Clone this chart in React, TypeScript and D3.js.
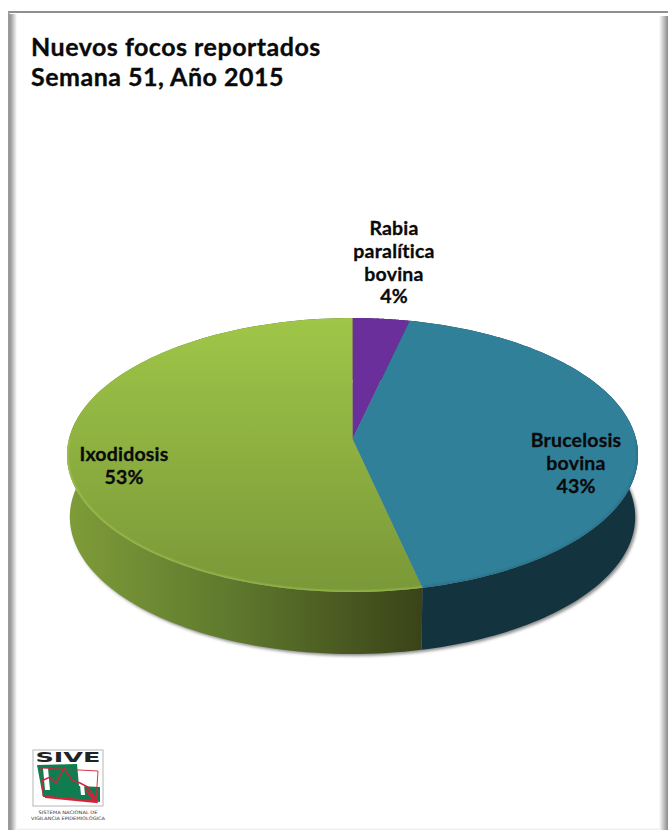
import React from "react";
import * as d3 from "d3";

const categories = ["Rabia paralítica bovina", "Brucelosis bovina", "Ixodidosis"];
const values = [3.6, 42.9, 53.5];
const labelLines = [
  ["Rabia", "paralítica", "bovina", "4%"],
  ["Brucelosis", "bovina", "43%"],
  ["Ixodidosis", "53%"],
];
const labelAnchors = [
  { x: 394, y: 235 },
  { x: 576, y: 447 },
  { x: 124, y: 461 },
];
const titleLines = ["Nuevos focos reportados", "Semana 51, Año 2015"];

const W = 668, H = 830;
const FONT = "Lato, 'Open Sans', sans-serif";

// pie projection: a circle seen in perspective, apex at (ax, ay)
const ax = 352.5, ay = 439, k = 0.1168, B = 135.1, A = 283.6, depth = 62, baseScale = 0.99;
const project = (theta: number, r = 1): [number, number] => {
  const X = r * Math.sin(theta), Y = -r * Math.cos(theta);
  const w = 1 - k * Y;
  return [ax + (A * X) / w, ay + (B * Y) / w];
};
const line = d3.line<[number, number]>().x(d => d[0]).y(d => d[1]);
const arcPoints = (a0: number, a1: number) =>
  d3.range(0, 121).map(i => project(a0 + ((a1 - a0) * i) / 120));
const toBase = (p: [number, number]): [number, number] => [ax + (p[0] - ax) * baseScale, p[1] + depth];

const pie = d3.pie<number>().sort(null).startAngle(0).endAngle(2 * Math.PI);
const slices = pie(values);

const topFills = ["#6b2f9b", "#31809a", "url(#greenTop)"];
const wallFills = ["#3a1a55", "#13343f", "url(#greenWall)"];
const edgeColors = ["#6b2f9b", "#27677d", "#aed25a"];

const slicePath = (s: d3.PieArcDatum<number>) =>
  line([[ax, ay], ...arcPoints(s.startAngle, s.endAngle)])! + "Z";
const wallPath = (s: d3.PieArcDatum<number>) => {
  const pts = arcPoints(s.startAngle, s.endAngle);
  return line([...pts, ...pts.map(toBase).reverse()])! + "Z";
};
const lowerArc = (s: d3.PieArcDatum<number>) => {
  const a0 = Math.max(s.startAngle, Math.PI * 0.5);
  const a1 = Math.min(s.endAngle, Math.PI * 1.5);
  return line(arcPoints(a0, a1))!;
};
const fullOutline = line(arcPoints(0, 2 * Math.PI))! + "Z";
const shadowPath =
  line(arcPoints(0, 2 * Math.PI).map(toBase).map(p => [p[0] + 2, p[1] + 2] as [number, number]))! + "Z";

const Logo = () => (
  <g>
    <rect x={33} y={750} width={70} height={56} fill="#fff" stroke="#b5b5b5" strokeWidth={1} />
    <text x={68} y={762} textAnchor="middle" fontFamily="'DejaVu Sans', sans-serif" fontWeight="bold"
      fontSize={14} fill="#222" textLength={65} lengthAdjust="spacingAndGlyphs">SIVE</text>
    <path d="M37,765 L77,764 L79,786 L100,787 L100,802 L43,797 Z" fill="#0f7d4f" />
    <path d="M43,768 L48,768 L50,790 L45,790 Z" fill="#fff" />
    <path d="M80,785 L84,785 L85,795 L81,795 Z" fill="#fff" />
    <path d="M41,768 L98,771 L96,801 L43,796 Z" fill="none" stroke="#d8203a" strokeWidth={0.9} />
    <path d="M41,781 L50,777 L56,783 L64,768 L72,780 L80,783 L88,787 L97,801" fill="none" stroke="#d8203a" strokeWidth={1.4} />
    <path d="M45,797 L96,802 L86,790" fill="none" stroke="#d8203a" strokeWidth={2.2} />
    <text x={68} y={813.5} textAnchor="middle" fontFamily="'DejaVu Sans', sans-serif" fontSize={4.6} fill="#333"
      textLength={59} lengthAdjust="spacingAndGlyphs">SISTEMA NACIONAL DE</text>
    <text x={68} y={819.5} textAnchor="middle" fontFamily="'DejaVu Sans', sans-serif" fontSize={4.6} fill="#333"
      textLength={74} lengthAdjust="spacingAndGlyphs">VIGILANCIA EPIDEMIOLÓGICA</text>
  </g>
);

export default function App() {
  return (
    <svg width={W} height={H} viewBox={`0 0 ${W} ${H}`} style={{ position: "absolute", left: 0, top: 0, background: "#fff" }}>
      <defs>
        <linearGradient id="greenTop" gradientUnits="userSpaceOnUse" x1={0} y1={318} x2={0} y2={592}>
          <stop offset="0" stopColor="#9fc648" />
          <stop offset="1" stopColor="#7a9838" />
        </linearGradient>
        <linearGradient id="greenWall" gradientUnits="userSpaceOnUse" x1={67} y1={0} x2={423} y2={0}>
          <stop offset="0" stopColor="#7f9c39" />
          <stop offset="0.45" stopColor="#607a2e" />
          <stop offset="1" stopColor="#3a4318" />
        </linearGradient>
        <linearGradient id="frameLeft" x1={0} y1={0} x2={1} y2={0}>
          <stop offset="0" stopColor="#8f8f8f" />
          <stop offset="0.3" stopColor="#a8a8a8" />
          <stop offset="1" stopColor="#ffffff" />
        </linearGradient>
        <linearGradient id="frameRight" x1={0} y1={0} x2={1} y2={0}>
          <stop offset="0" stopColor="#ffffff" />
          <stop offset="1" stopColor="#8a8a8a" />
        </linearGradient>
        <filter id="blur" x="-5%" y="-5%" width="110%" height="110%">
          <feGaussianBlur stdDeviation={1.6} />
        </filter>
        <filter id="soft" x="-5%" y="-5%" width="110%" height="110%">
          <feGaussianBlur stdDeviation={0.8} />
        </filter>
        <clipPath id="topClip"><path d={fullOutline} /></clipPath>
      </defs>

      {/* frame */}
      <rect x={9} y={14} width={8} height={H - 14} fill="url(#frameLeft)" />
      <rect x={659} y={16} width={9} height={H - 16} fill="url(#frameRight)" />
      <rect x={8} y={11} width={W - 8} height={2} fill="#8f8f8f" />
      <rect x={8} y={11} width={1.5} height={H - 11} fill="#9a9a9a" />
      <rect x={17} y={828.5} width={642} height={1.5} fill="#efefef" />

      {/* title */}
      <text fontFamily={FONT} fontWeight="bold" fontSize={25} letterSpacing={0.5} fill="#0a0a0a" stroke="#0a0a0a" strokeWidth={0.35}>
        {titleLines.map((t, i) => (
          <tspan key={t} x={31} y={55.5 + i * 30}>{t}</tspan>
        ))}
      </text>

      {/* pie */}
      <path d={shadowPath} fill="#555" opacity={0.65} filter="url(#blur)" />
      {slices.map((s, i) => (
        <path key={categories[i] + "w"} d={wallPath(s)} fill={wallFills[i]} />
      ))}
      {slices.map((s, i) => (
        <path key={categories[i]} d={slicePath(s)} fill={topFills[i]} />
      ))}
      <g clipPath="url(#topClip)" opacity={0.7}>
        {slices.map((s, i) =>
          s.endAngle > Math.PI * 0.5 ? (
            <path key={categories[i] + "e"} d={lowerArc(s)} fill="none" stroke={edgeColors[i]} strokeWidth={2.4} filter="url(#soft)" />
          ) : null
        )}
      </g>

      {/* labels */}
      {labelLines.map((lines, i) => (
        <text key={categories[i] + "l"} textAnchor="middle" fontFamily={FONT} fontWeight="bold" fontSize={19.5}
          letterSpacing={0.2} fill="#0a0a0a" stroke="#0a0a0a" strokeWidth={0.3}>
          {lines.map((t, j) => (
            <tspan key={j} x={labelAnchors[i].x} y={labelAnchors[i].y + j * 22.8}>{t}</tspan>
          ))}
        </text>
      ))}

      <Logo />
    </svg>
  );
}
